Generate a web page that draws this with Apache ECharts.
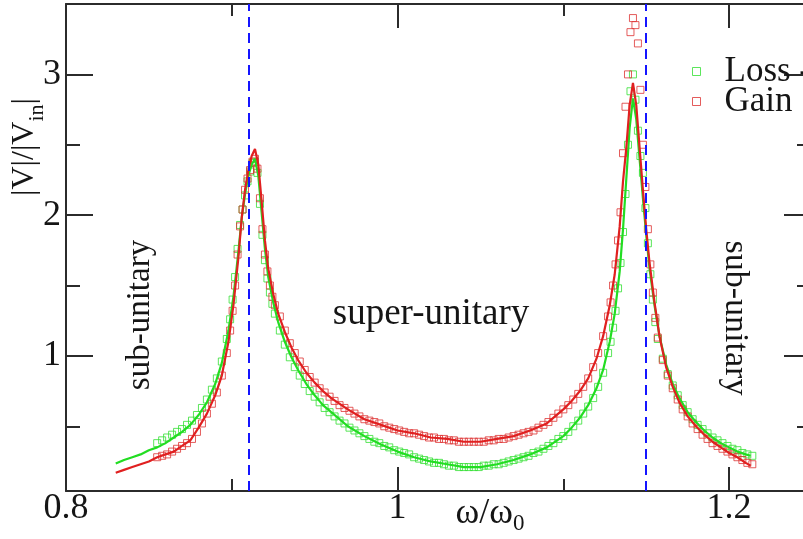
<!DOCTYPE html>
<html><head><meta charset="utf-8">
<script src="https://cdn.jsdelivr.net/npm/echarts@6/dist/echarts.min.js"></script>
<style>html,body{margin:0;padding:0;background:#fff}#c{width:803px;height:539px}</style>
</head><body><div id="c"></div>
<script>
// ---- data ----
const markerX = [
0.855,0.858,0.861,0.864,0.867,0.870,0.873,0.876,0.879,0.882,0.885,0.888,0.891,0.894,0.897,
0.899,0.9005,0.902,0.9035,0.905,0.9065,0.908,0.9095,0.911,0.9125,0.914,0.9155,0.917,0.9185,0.920,0.9215,0.923,0.9245,0.926,
0.929,0.932,0.935,0.938,0.941,0.944,0.947,0.950,0.953,0.956,0.959,0.962,0.965,0.968,0.971,0.974,0.977,0.980,0.983,0.986,0.989,0.992,0.995,0.998,
1.001,1.004,1.007,1.010,1.013,1.016,1.019,1.022,1.025,1.028,1.031,1.034,1.037,1.040,1.043,1.046,1.049,1.052,1.055,1.058,1.061,1.064,1.067,1.070,
1.073,1.076,1.079,1.082,1.085,1.088,1.091,1.094,1.097,1.100,1.103,1.106,1.109,1.112,1.115,1.118,1.121,1.124,1.127,
1.1285,1.130,1.1315,1.133,1.1345,1.136,1.1375,1.139,1.1405,1.142,1.1435,1.145,1.1465,1.148,1.1495,1.151,1.1525,1.154,1.1555,1.157,
1.160,1.163,1.166,1.169,1.172,1.175,1.178,1.181,1.184,1.187,1.190,1.193,1.196,1.199,1.202,1.205,1.208,1.211,1.214];
const lossY = [
0.38,0.40,0.42,0.44,0.46,0.48,0.51,0.54,0.58,0.63,0.69,0.76,0.84,0.96,1.12,
1.26,1.40,1.56,1.76,1.93,2.04,2.14,2.24,2.31,2.37,2.38,2.30,2.08,1.86,1.68,1.55,1.45,1.37,1.30,
1.18,1.08,0.99,0.92,0.86,0.80,0.75,0.71,0.67,0.63,0.60,0.57,0.54,0.52,0.49,0.47,0.45,0.43,0.41,0.39,0.38,0.36,0.35,0.33,
0.32,0.31,0.30,0.28,0.27,0.26,0.25,0.24,0.24,0.23,0.22,0.22,0.21,0.21,0.21,0.21,0.21,0.22,0.22,0.23,0.23,0.24,0.25,0.26,
0.27,0.28,0.29,0.31,0.32,0.34,0.36,0.38,0.41,0.43,0.46,0.50,0.54,0.59,0.64,0.70,0.78,0.88,1.02,
1.10,1.20,1.32,1.48,1.66,1.88,2.15,2.50,2.88,3.00,2.82,2.60,2.42,2.30,2.05,1.80,1.58,1.40,1.24,1.12,
0.98,0.87,0.79,0.72,0.65,0.60,0.55,0.51,0.48,0.45,0.42,0.40,0.38,0.36,0.34,0.33,0.31,0.30,0.29];
const gainY = [
0.28,0.29,0.30,0.32,0.34,0.36,0.38,0.41,0.46,0.52,0.59,0.66,0.74,0.86,1.02,
1.18,1.32,1.50,1.72,1.92,2.04,2.18,2.26,2.32,2.38,2.40,2.33,2.12,1.90,1.72,1.60,1.50,1.42,1.36,
1.28,1.18,1.09,1.02,0.96,0.90,0.85,0.81,0.77,0.74,0.71,0.68,0.65,0.63,0.61,0.59,0.57,0.55,0.54,0.53,0.52,0.50,0.49,0.48,
0.47,0.46,0.45,0.45,0.44,0.43,0.42,0.42,0.41,0.41,0.40,0.40,0.39,0.39,0.39,0.39,0.39,0.39,0.40,0.40,0.41,0.41,0.42,0.43,
0.44,0.45,0.46,0.47,0.49,0.51,0.53,0.56,0.59,0.62,0.65,0.69,0.73,0.78,0.84,0.92,1.02,1.14,1.28,
1.38,1.50,1.65,1.82,2.02,2.44,2.77,3.00,3.30,3.40,3.35,3.22,2.89,2.50,2.20,1.90,1.65,1.45,1.27,1.13,
0.97,0.86,0.77,0.69,0.62,0.57,0.52,0.48,0.44,0.41,0.38,0.36,0.34,0.32,0.30,0.28,0.26,0.24,0.23];
const fitX = [
0.830,0.835,0.840,0.845,0.850,0.855,0.860,0.865,0.870,0.875,0.880,0.885,0.890,0.894,0.898,
0.901,0.904,0.906,0.908,0.910,0.912,0.914,0.916,0.918,0.920,0.922,0.925,0.928,0.932,0.936,0.940,
0.945,0.950,0.955,0.960,0.970,0.980,0.990,1.000,1.010,1.020,1.030,1.040,1.050,1.060,1.070,1.080,1.090,1.100,
1.105,1.110,1.115,1.120,1.124,1.128,1.131,1.134,1.136,1.138,1.140,1.142,1.144,1.146,1.148,1.150,1.152,
1.155,1.158,1.162,1.166,1.170,1.175,1.180,1.185,1.190,1.195,1.200,1.205,1.210,1.213];
const lossFit = [
0.235,0.26,0.28,0.30,0.33,0.35,0.38,0.42,0.46,0.51,0.58,0.67,0.80,0.95,1.18,
1.42,1.74,1.98,2.15,2.28,2.36,2.40,2.28,2.02,1.76,1.56,1.38,1.24,1.10,0.99,0.90,
0.80,0.72,0.65,0.60,0.50,0.43,0.37,0.32,0.28,0.25,0.23,0.21,0.21,0.23,0.26,0.30,0.35,0.43,
0.49,0.56,0.65,0.77,0.90,1.10,1.30,1.60,1.90,2.26,2.62,2.83,2.68,2.40,2.12,1.86,1.62,
1.36,1.14,0.94,0.80,0.70,0.60,0.53,0.47,0.42,0.38,0.35,0.32,0.30,0.29];
const gainFit = [
0.17,0.19,0.21,0.23,0.25,0.28,0.30,0.32,0.36,0.40,0.49,0.59,0.72,0.86,1.10,
1.36,1.70,1.98,2.18,2.32,2.42,2.47,2.36,2.10,1.82,1.62,1.44,1.30,1.17,1.06,0.97,
0.88,0.81,0.75,0.70,0.62,0.55,0.51,0.47,0.45,0.42,0.41,0.39,0.39,0.41,0.43,0.47,0.52,0.62,
0.68,0.75,0.84,0.98,1.14,1.36,1.58,1.92,2.24,2.48,2.78,2.94,2.78,2.48,2.18,1.90,1.66,
1.38,1.14,0.92,0.78,0.67,0.57,0.50,0.44,0.39,0.35,0.31,0.28,0.24,0.22];
const boundaries = [0.9086, 1.1488];
const xMajorTicks = [0.8, 1.0, 1.2];
const xMinorTicks = [0.9, 1.1];
const yMajorTicks = [1, 2, 3];
const yMinorTicks = [0.5, 1.5, 2.5];
const seriesNames = ['Loss -', 'Gain'];

// ---- chart ----
const zip = (xs, ys) => xs.map((x, i) => [x, ys[i]]);
const GREEN = '#22dd22', RED = '#e02020', GREEN_M = '#33e033', RED_M = '#dd3333';
const BLUE = '#1515ff', INK = '#2b2b2b', TXT = '#151515';
const FONT = '"Liberation Serif","Times New Roman",serif';
const XMIN = 0.8, XMAX = 1.25, YMIN = 0.04, YMAX = 3.5;

function axis(kind, position, ticks, len, showLine, labels) {
  return {
    type: 'value', position, min: kind === 'x' ? XMIN : YMIN, max: kind === 'x' ? XMAX : YMAX,
    axisLine: { show: showLine, onZero: false, lineStyle: { color: INK, width: 2 } },
    axisTick: { show: true, inside: true, length: len, customValues: ticks, lineStyle: { color: INK, width: 2 } },
    axisLabel: labels ? { show: true, customValues: ticks, fontSize: 36, fontFamily: FONT, color: TXT,
      margin: kind === 'x' ? 0 : 5 } : { show: false },
    splitLine: { show: false }, minorTick: { show: false }
  };
}

const chart = echarts.init(document.getElementById('c'), null, { renderer: 'canvas' });
chart.setOption({
  animation: false,
  backgroundColor: '#fff',
  grid: { left: 66, top: 4, width: 746, height: 487, containLabel: false, outerBoundsMode: 'none' },
  xAxis: [
    axis('x', 'bottom', xMajorTicks, 24, true, true),
    axis('x', 'bottom', xMinorTicks, 12, false, false),
    axis('x', 'top', xMajorTicks, 24, true, false),
    axis('x', 'top', xMinorTicks, 12, false, false)
  ],
  yAxis: [
    axis('y', 'left', yMajorTicks, 27, true, true),
    axis('y', 'left', yMinorTicks, 14, false, false),
    axis('y', 'right', yMajorTicks, 28, true, false),
    axis('y', 'right', yMinorTicks, 15, false, false)
  ],
  legend: {
    orient: 'vertical', left: 687, top: 49, itemWidth: 8, itemHeight: 8, itemGap: -5,
    icon: 'rect', selectedMode: false,
    textStyle: { fontFamily: FONT, fontSize: 35, lineHeight: 29, color: TXT, padding: [0, 0, 0, 19] },
    data: [
      { name: seriesNames[0], itemStyle: { color: 'rgba(0,0,0,0)', borderColor: GREEN_M, borderWidth: 1 } },
      { name: seriesNames[1], itemStyle: { color: 'rgba(0,0,0,0)', borderColor: RED_M, borderWidth: 1 } }
    ]
  },
  series: [
    { name: seriesNames[0], type: 'scatter', data: zip(markerX, lossY), symbol: 'rect', symbolSize: 7,
      itemStyle: { color: 'rgba(0,0,0,0)', borderColor: GREEN_M, borderWidth: 1 }, emphasis: { disabled: true } },
    { name: seriesNames[1], type: 'scatter', data: zip(markerX, gainY), symbol: 'rect', symbolSize: 7,
      itemStyle: { color: 'rgba(0,0,0,0)', borderColor: RED_M, borderWidth: 1 }, emphasis: { disabled: true } },
    { name: 'loss-fit', type: 'line', data: zip(fitX, lossFit), showSymbol: false, symbol: 'none',
      lineStyle: { color: GREEN, width: 2.2 }, emphasis: { disabled: true } },
    { name: 'gain-fit', type: 'line', data: zip(fitX, gainFit), showSymbol: false, symbol: 'none',
      lineStyle: { color: RED, width: 2.2 }, emphasis: { disabled: true },
      markLine: { silent: true, symbol: 'none', label: { show: false },
        lineStyle: { color: BLUE, width: 2, type: [10, 6] },
        data: boundaries.map(v => ({ xAxis: v })) } }
  ],
  graphic: [
    { type: 'text', x: 25, y: 147, rotation: Math.PI / 2,
      style: { text: '{a||V|/|V}{s|in}{a||}', align: 'center', verticalAlign: 'middle',
        rich: { a: { fontSize: 32, fontFamily: FONT, fill: TXT, lineHeight: 46 },
                s: { fontSize: 22, fontFamily: FONT, fill: TXT, lineHeight: 18, verticalAlign: 'bottom' } } } },
    { type: 'text', x: 490, y: 514,
      style: { text: '{a|ω/ω}{s|0}', align: 'center', verticalAlign: 'middle',
        rich: { a: { fontSize: 36, fontFamily: FONT, fill: TXT, lineHeight: 42 },
                s: { fontSize: 23, fontFamily: FONT, fill: TXT, lineHeight: 16, verticalAlign: 'bottom' } } } },
    { type: 'text', x: 140, y: 315, rotation: Math.PI / 2,
      style: { text: 'sub-unitary', font: '33px ' + FONT, fill: TXT, align: 'center', verticalAlign: 'middle' } },
    { type: 'text', x: 735, y: 318, rotation: -Math.PI / 2,
      style: { text: 'sub-unitary', font: '34px ' + FONT, fill: TXT, align: 'center', verticalAlign: 'middle' } },
    { type: 'text', x: 431, y: 314,
      style: { text: 'super-unitary', font: '37px ' + FONT, fill: TXT, align: 'center', verticalAlign: 'middle' } }
  ]
});
</script></body></html>
